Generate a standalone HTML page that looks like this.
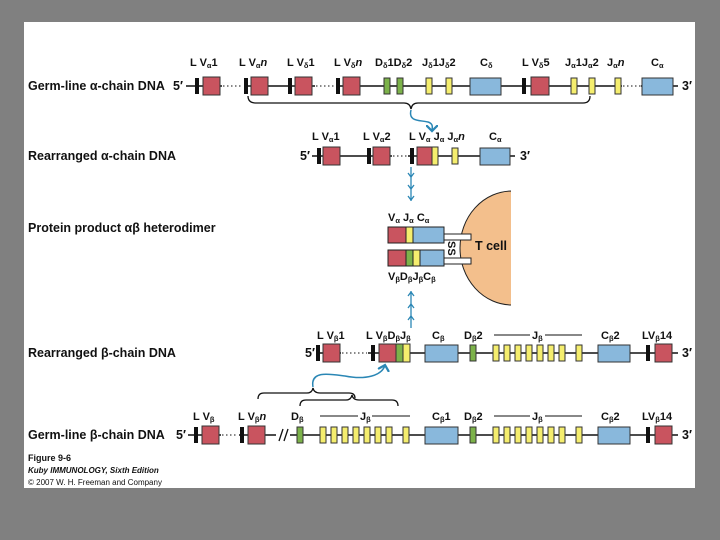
<!DOCTYPE html>
<html><head><meta charset="utf-8"><style>
html,body{margin:0;padding:0;background:#808080;width:720px;height:540px;overflow:hidden}
svg{display:block}
text{font-family:"Liberation Sans",sans-serif;font-weight:bold;fill:#111}
.lab{font-size:12.5px}
.s{font-size:11px}
.sub{font-size:7.5px}
</style></head><body>
<svg width="720" height="540" viewBox="0 0 720 540" xmlns="http://www.w3.org/2000/svg">
<rect x="0" y="0" width="720" height="540" fill="#808080"/>
<rect x="24" y="22" width="671" height="466" fill="#fff"/>
<defs>
<marker id="ah" markerWidth="8" markerHeight="8" refX="4" refY="4" orient="auto"><path d="M0,0 L4,4 L0,8" fill="none" stroke="#2b87b5" stroke-width="1.5"/></marker>
</defs>

<!-- Row 1: Germ-line alpha -->
<text x="28" y="90" class="lab">Germ-line α-chain DNA</text>
<text x="173" y="90" class="lab">5′</text>
<g stroke="#111" stroke-width="1.5">
<line x1="186" y1="86" x2="222" y2="86"/>
<line x1="244" y1="86" x2="315" y2="86"/>
<line x1="336" y1="86" x2="622" y2="86"/>
<line x1="641" y1="86" x2="678" y2="86"/>
</g>
<g stroke="#111" stroke-width="1" stroke-dasharray="1.5,2.5">
<line x1="223" y1="86" x2="243" y2="86"/>
<line x1="316" y1="86" x2="335" y2="86"/>
<line x1="623" y1="86" x2="641" y2="86"/>
</g>
<g fill="#111">
<rect x="195" y="78" width="4" height="16"/><rect x="244" y="78" width="4" height="16"/>
<rect x="288" y="78" width="4" height="16"/><rect x="336" y="78" width="4" height="16"/>
<rect x="522" y="78" width="4" height="16"/>
</g>
<g stroke="#333" stroke-width="1">
<rect x="203" y="77" width="17" height="18" fill="#c9545f"/>
<rect x="251" y="77" width="17" height="18" fill="#c9545f"/>
<rect x="295" y="77" width="17" height="18" fill="#c9545f"/>
<rect x="343" y="77" width="17" height="18" fill="#c9545f"/>
<rect x="531" y="77" width="18" height="18" fill="#c9545f"/>
<rect x="384" y="78" width="6" height="16" fill="#7cb24a"/>
<rect x="397" y="78" width="6" height="16" fill="#7cb24a"/>
<rect x="426" y="78" width="6" height="16" fill="#f5ee6e"/>
<rect x="446" y="78" width="6" height="16" fill="#f5ee6e"/>
<rect x="571" y="78" width="6" height="16" fill="#f5ee6e"/>
<rect x="589" y="78" width="6" height="16" fill="#f5ee6e"/>
<rect x="615" y="78" width="6" height="16" fill="#f5ee6e"/>
<rect x="470" y="78" width="31" height="17" fill="#89b8dc"/>
<rect x="642" y="78" width="31" height="17" fill="#89b8dc"/>
</g>
<text x="682" y="90" class="lab">3′</text>
<text x="190" y="66" class="s">L V<tspan class="sub" dy="2">α</tspan><tspan dy="-2">1</tspan></text>
<text x="239" y="66" class="s">L V<tspan class="sub" dy="2">α</tspan><tspan dy="-2" font-style="italic">n</tspan></text>
<text x="287" y="66" class="s">L V<tspan class="sub" dy="2">δ</tspan><tspan dy="-2">1</tspan></text>
<text x="334" y="66" class="s">L V<tspan class="sub" dy="2">δ</tspan><tspan dy="-2" font-style="italic">n</tspan></text>
<text x="375" y="66" class="s">D<tspan class="sub" dy="2">δ</tspan><tspan dy="-2">1D</tspan><tspan class="sub" dy="2">δ</tspan><tspan dy="-2">2</tspan></text>
<text x="422" y="66" class="s">J<tspan class="sub" dy="2">δ</tspan><tspan dy="-2">1J</tspan><tspan class="sub" dy="2">δ</tspan><tspan dy="-2">2</tspan></text>
<text x="480" y="66" class="s">C<tspan class="sub" dy="2">δ</tspan></text>
<text x="522" y="66" class="s">L V<tspan class="sub" dy="2">δ</tspan><tspan dy="-2">5</tspan></text>
<text x="565" y="66" class="s">J<tspan class="sub" dy="2">α</tspan><tspan dy="-2">1J</tspan><tspan class="sub" dy="2">α</tspan><tspan dy="-2">2</tspan></text>
<text x="607" y="66" class="s">J<tspan class="sub" dy="2">α</tspan><tspan dy="-2" font-style="italic">n</tspan></text>
<text x="651" y="66" class="s">C<tspan class="sub" dy="2">α</tspan></text>
<path d="M248,96 Q248,103 256,103 L404,103 Q410,103 411,109 Q412,103 418,103 L583,103 Q590,103 590,96" fill="none" stroke="#111" stroke-width="1.3"/>
<path d="M411,110 C408,122 420,120 428,122 C434,124 432,128 432,131" fill="none" stroke="#2b87b5" stroke-width="1.5" marker-end="url(#ah)"/>

<!-- Row 2: Rearranged alpha -->
<text x="28" y="160" class="lab">Rearranged α-chain DNA</text>
<text x="300" y="160" class="lab">5′</text>
<g stroke="#111" stroke-width="1.5">
<line x1="312" y1="156" x2="392" y2="156"/>
<line x1="408" y1="156" x2="515" y2="156"/>
</g>
<line x1="393" y1="156" x2="407" y2="156" stroke="#111" stroke-dasharray="1.5,2.5"/>
<g fill="#111">
<rect x="317" y="148" width="4" height="16"/><rect x="367" y="148" width="4" height="16"/><rect x="410" y="148" width="4" height="16"/>
</g>
<g stroke="#333">
<rect x="323" y="147" width="17" height="18" fill="#c9545f"/>
<rect x="373" y="147" width="17" height="18" fill="#c9545f"/>
<rect x="417" y="147" width="15" height="18" fill="#c9545f"/>
<rect x="432" y="147" width="6" height="18" fill="#f5ee6e"/>
<rect x="452" y="148" width="6" height="16" fill="#f5ee6e"/>
<rect x="480" y="148" width="30" height="17" fill="#89b8dc"/>
</g>
<text x="520" y="160" class="lab">3′</text>
<text x="312" y="140" class="s">L V<tspan class="sub" dy="2">α</tspan><tspan dy="-2">1</tspan></text>
<text x="363" y="140" class="s">L V<tspan class="sub" dy="2">α</tspan><tspan dy="-2">2</tspan></text>
<text x="409" y="140" class="s">L V<tspan class="sub" dy="2">α</tspan><tspan dy="-2"> J</tspan><tspan class="sub" dy="2">α</tspan><tspan dy="-2"> J</tspan><tspan class="sub" dy="2">α</tspan><tspan dy="-2" font-style="italic">n</tspan></text>
<text x="489" y="140" class="s">C<tspan class="sub" dy="2">α</tspan></text>

<!-- arrows -->
<g stroke="#2b87b5" stroke-width="1.3" fill="none">
<line x1="411" y1="167" x2="411" y2="201"/>
<path d="M408,173 L411,177 L414,173 M408,185 L411,189 L414,185 M408,196 L411,200 L414,196"/>
<line x1="411" y1="291" x2="411" y2="328"/>
<path d="M408,296 L411,292 L414,296 M408,308 L411,304 L414,308 M408,320 L411,316 L414,320"/>
</g>

<!-- Protein -->
<text x="28" y="232" class="lab">Protein product αβ heterodimer</text>
<path d="M512,191 A52,57 0 0 0 512,305 Z" fill="#f3bf8c" stroke="#222" stroke-width="1"/>
<rect x="511" y="188" width="6" height="120" fill="#fff"/>
<g stroke="#222" stroke-width="1" fill="#fff">
<rect x="444" y="234" width="27" height="6"/>
<rect x="444" y="258" width="27" height="6"/>
</g>
<g stroke="#222" stroke-width="1">
<rect x="388" y="227" width="18" height="16" fill="#c9545f"/>
<rect x="406" y="227" width="7" height="16" fill="#f5ee6e"/>
<rect x="413" y="227" width="31" height="16" fill="#89b8dc"/>
<rect x="388" y="250" width="18" height="16" fill="#c9545f"/>
<rect x="406" y="250" width="7" height="16" fill="#7cb24a"/>
<rect x="413" y="250" width="7" height="16" fill="#f5ee6e"/>
<rect x="420" y="250" width="24" height="16" fill="#89b8dc"/>
</g>
<text x="0" y="0" class="s" transform="translate(448,241) rotate(90)">SS</text>
<text x="475" y="250" font-size="12.5">T cell</text>
<text x="388" y="221" class="s">V<tspan class="sub" dy="2">α</tspan><tspan dy="-2"> J</tspan><tspan class="sub" dy="2">α</tspan><tspan dy="-2"> C</tspan><tspan class="sub" dy="2">α</tspan></text>
<text x="388" y="280" class="s">V<tspan class="sub" dy="2">β</tspan><tspan dy="-2">D</tspan><tspan class="sub" dy="2">β</tspan><tspan dy="-2">J</tspan><tspan class="sub" dy="2">β</tspan><tspan dy="-2">C</tspan><tspan class="sub" dy="2">β</tspan></text>

<!-- Rearranged beta -->
<text x="28" y="357" class="lab">Rearranged β-chain DNA</text>
<text x="305" y="357" class="lab">5′</text>
<g stroke="#111" stroke-width="1.5">
<line x1="316" y1="353" x2="341" y2="353"/>
<line x1="368" y1="353" x2="678" y2="353"/>
</g>
<line x1="342" y1="353" x2="367" y2="353" stroke="#111" stroke-dasharray="1.5,2.5"/>
<g fill="#111"><rect x="316" y="345" width="4" height="16"/><rect x="371" y="345" width="4" height="16"/><rect x="646" y="345" width="4" height="16"/></g>
<g stroke="#333">
<rect x="323" y="344" width="17" height="18" fill="#c9545f"/>
<rect x="379" y="344" width="17" height="18" fill="#c9545f"/>
<rect x="396" y="344" width="7" height="18" fill="#7cb24a"/>
<rect x="403" y="344" width="7" height="18" fill="#f5ee6e"/>
<rect x="425" y="345" width="33" height="17" fill="#89b8dc"/>
<rect x="470" y="345" width="6" height="16" fill="#7cb24a"/>
<rect x="493" y="345" width="6" height="16" fill="#f5ee6e"/>
<rect x="504" y="345" width="6" height="16" fill="#f5ee6e"/>
<rect x="515" y="345" width="6" height="16" fill="#f5ee6e"/>
<rect x="526" y="345" width="6" height="16" fill="#f5ee6e"/>
<rect x="537" y="345" width="6" height="16" fill="#f5ee6e"/>
<rect x="548" y="345" width="6" height="16" fill="#f5ee6e"/>
<rect x="559" y="345" width="6" height="16" fill="#f5ee6e"/>
<rect x="576" y="345" width="6" height="16" fill="#f5ee6e"/>
<rect x="598" y="345" width="32" height="17" fill="#89b8dc"/>
<rect x="655" y="344" width="17" height="18" fill="#c9545f"/>
</g>
<text x="682" y="357" class="lab">3′</text>
<text x="317" y="339" class="s">L V<tspan class="sub" dy="2">β</tspan><tspan dy="-2">1</tspan></text>
<text x="366" y="339" class="s">L V<tspan class="sub" dy="2">β</tspan><tspan dy="-2">D</tspan><tspan class="sub" dy="2">β</tspan><tspan dy="-2">J</tspan><tspan class="sub" dy="2">β</tspan></text>
<text x="432" y="339" class="s">C<tspan class="sub" dy="2">β</tspan></text>
<text x="464" y="339" class="s">D<tspan class="sub" dy="2">β</tspan><tspan dy="-2">2</tspan></text>
<text x="532" y="339" class="s">J<tspan class="sub" dy="2">β</tspan></text>
<line x1="494" y1="335" x2="530" y2="335" stroke="#111"/><line x1="545" y1="335" x2="582" y2="335" stroke="#111"/>
<text x="601" y="339" class="s">C<tspan class="sub" dy="2">β</tspan><tspan dy="-2">2</tspan></text>
<text x="642" y="339" class="s">LV<tspan class="sub" dy="2">β</tspan><tspan dy="-2">14</tspan></text>

<!-- braces and arrow -->
<path d="M258,399 Q258,393 264,393 L307,393 Q312,393 313,388 Q314,393 320,393 L349,393 Q355,393 355,398" fill="none" stroke="#111" stroke-width="1.3"/>
<path d="M300,406 Q300,400 306,400 L346,400 Q351,400 352,395 Q353,400 359,400 L392,400 Q398,400 398,406" fill="none" stroke="#111" stroke-width="1.3"/>
<path d="M313,387 C310,370 330,374 345,376 C365,380 382,376 385,365" fill="none" stroke="#2b87b5" stroke-width="1.5" marker-end="url(#ah)"/>

<!-- Germ-line beta -->
<text x="28" y="439" class="lab">Germ-line β-chain DNA</text>
<text x="176" y="439" class="lab">5′</text>
<g stroke="#111" stroke-width="1.5">
<line x1="188" y1="435" x2="221" y2="435"/>
<line x1="239" y1="435" x2="678" y2="435"/>
</g>
<line x1="222" y1="435" x2="238" y2="435" stroke="#111" stroke-dasharray="1.5,2.5"/>
<rect x="276" y="427" width="14" height="16" fill="#fff"/>
<path d="M279,441 L283,429 M284,441 L288,429" stroke="#111" stroke-width="1.3"/>
<g fill="#111"><rect x="194" y="427" width="4" height="16"/><rect x="240" y="427" width="4" height="16"/><rect x="646" y="427" width="4" height="16"/></g>
<g stroke="#333">
<rect x="202" y="426" width="17" height="18" fill="#c9545f"/>
<rect x="248" y="426" width="17" height="18" fill="#c9545f"/>
<rect x="297" y="427" width="6" height="16" fill="#7cb24a"/>
<rect x="320" y="427" width="6" height="16" fill="#f5ee6e"/>
<rect x="331" y="427" width="6" height="16" fill="#f5ee6e"/>
<rect x="342" y="427" width="6" height="16" fill="#f5ee6e"/>
<rect x="353" y="427" width="6" height="16" fill="#f5ee6e"/>
<rect x="364" y="427" width="6" height="16" fill="#f5ee6e"/>
<rect x="375" y="427" width="6" height="16" fill="#f5ee6e"/>
<rect x="386" y="427" width="6" height="16" fill="#f5ee6e"/>
<rect x="403" y="427" width="6" height="16" fill="#f5ee6e"/>
<rect x="425" y="427" width="33" height="17" fill="#89b8dc"/>
<rect x="470" y="427" width="6" height="16" fill="#7cb24a"/>
<rect x="493" y="427" width="6" height="16" fill="#f5ee6e"/>
<rect x="504" y="427" width="6" height="16" fill="#f5ee6e"/>
<rect x="515" y="427" width="6" height="16" fill="#f5ee6e"/>
<rect x="526" y="427" width="6" height="16" fill="#f5ee6e"/>
<rect x="537" y="427" width="6" height="16" fill="#f5ee6e"/>
<rect x="548" y="427" width="6" height="16" fill="#f5ee6e"/>
<rect x="559" y="427" width="6" height="16" fill="#f5ee6e"/>
<rect x="576" y="427" width="6" height="16" fill="#f5ee6e"/>
<rect x="598" y="427" width="32" height="17" fill="#89b8dc"/>
<rect x="655" y="426" width="17" height="18" fill="#c9545f"/>
</g>
<text x="682" y="439" class="lab">3′</text>
<text x="193" y="420" class="s">L  V<tspan class="sub" dy="2">β</tspan></text>
<text x="238" y="420" class="s">L V<tspan class="sub" dy="2">β</tspan><tspan dy="-2" font-style="italic">n</tspan></text>
<text x="291" y="420" class="s">D<tspan class="sub" dy="2">β</tspan></text>
<line x1="320" y1="416" x2="358" y2="416" stroke="#111"/><line x1="372" y1="416" x2="410" y2="416" stroke="#111"/>
<text x="360" y="420" class="s">J<tspan class="sub" dy="2">β</tspan></text>
<text x="432" y="420" class="s">C<tspan class="sub" dy="2">β</tspan><tspan dy="-2">1</tspan></text>
<text x="464" y="420" class="s">D<tspan class="sub" dy="2">β</tspan><tspan dy="-2">2</tspan></text>
<line x1="494" y1="416" x2="530" y2="416" stroke="#111"/><line x1="545" y1="416" x2="582" y2="416" stroke="#111"/>
<text x="532" y="420" class="s">J<tspan class="sub" dy="2">β</tspan></text>
<text x="601" y="420" class="s">C<tspan class="sub" dy="2">β</tspan><tspan dy="-2">2</tspan></text>
<text x="642" y="420" class="s">LV<tspan class="sub" dy="2">β</tspan><tspan dy="-2">14</tspan></text>

<!-- caption -->
<text x="28" y="461" font-size="9">Figure 9-6</text>
<text x="28" y="473" font-size="8" font-style="italic">Kuby IMMUNOLOGY, Sixth Edition</text>
<text x="28" y="485" font-size="8" style="font-weight:normal" fill="#333">© 2007 W. H. Freeman and Company</text>
</svg>
</body></html>
